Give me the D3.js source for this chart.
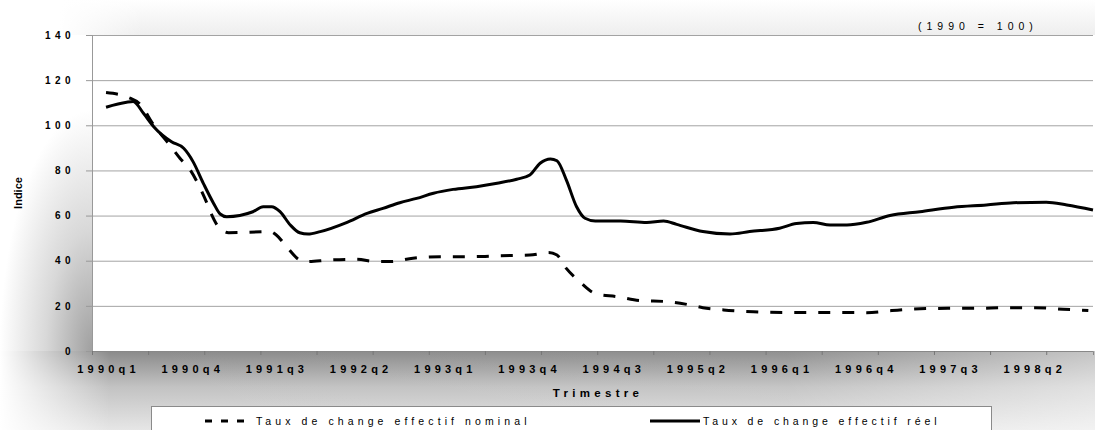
<!DOCTYPE html>
<html>
<head>
<meta charset="utf-8">
<script src="https://cdn.jsdelivr.net/npm/d3@7/dist/d3.min.js"></script>
<style>
    body { margin: 0; background: #fff; }
    svg { display: block; font-family: 'Liberation Sans', Arial, sans-serif; }
</style>
</head>
<body>
<svg></svg>
<script>
// Data (position in months since 1990q1, index 1990 = 100)
let moisReel = [0, 2.2, 2.9, 4, 5.1, 6, 7, 8.3, 9.3, 10.4, 11.5, 12.2, 12.9, 15.7, 16.8, 17.7, 18.6, 19.7, 20.7, 21.6,
    22.9, 25.7, 27.9, 29.6, 31.4, 33.2, 35, 37.1, 39.6, 41.8, 43.9, 45.3, 46.4, 47.5, 48.2, 49.2, 50.3, 51.2, 52.3, 55,
    57.8, 59.6, 61, 63.8, 66.7, 68.8, 72, 73.8, 75.6, 77.4, 79.2, 81.3, 83.8, 87, 90.6, 94.1, 97, 100.5, 102.7, 105.5]
let indiceReel = [108, 110.2, 110.5, 105.3, 99.4, 95.7, 92.7, 89.8, 83.9, 74.3, 65.4, 60.7, 59.5, 61.7, 63.9, 63.9, 61.7, 55.8, 52.4, 51.8,
    52.9, 56.9, 61, 63.2, 65.7, 67.6, 69.9, 71.6, 72.8, 74.3, 76.1, 78, 83.2, 85.1, 84.3, 75.8, 63.9, 58.8, 57.6, 57.6,
    56.9, 57.6, 56.1, 52.9, 51.8, 52.9, 54.4, 56.5, 56.9, 55.8, 55.8, 57, 60, 61.7, 63.7, 64.7, 65.7, 65.9, 64.7, 62.5]

let moisNominal = [0, 2.4, 3.6, 5.1, 6.8, 7.9, 9, 9.9, 10.8, 11.3, 12, 13.1, 17.5, 18.2, 19.3, 20.7, 21.4, 23.9, 26.8, 28.9,
    30.4, 32.8, 35.7, 38.9, 42.1, 45.3, 47.3, 48.2, 49.2, 50.5, 52.4, 54.6, 57.1, 59.9, 62.4, 63.8, 66, 69.2, 72.4, 75.2,
    77.9, 81.3, 84, 87, 90, 93.1, 96.1, 99.3, 102.3, 105]
let indiceNominal = [114.5, 112.3, 109.5, 100.1, 91.3, 85.4, 80.2, 73.5, 65.4, 60.3, 55.1, 52.4, 52.9, 51.4, 46.2, 40.3, 39.6, 40.3, 40.6, 39.6,
    39.6, 41.1, 41.8, 41.8, 42.2, 42.5, 43.6, 42.5, 36.6, 31.2, 25.3, 24.1, 22.3, 21.9, 20.4, 19.2, 18.2, 17.4, 17.1, 17.1,
    17.1, 17, 17.9, 18.7, 18.9, 18.9, 19.2, 19.2, 18.5, 17.9]

// Tick labels
let yTicks = [0, 20, 40, 60, 80, 100, 120, 140]
let xLabels = ['1990q1', '1990q4', '1991q3', '1992q2', '1993q1', '1993q4', '1994q3', '1995q2', '1996q1', '1996q4', '1997q3', '1998q2']
let legendLabels = ['Taux de change effectif nominal', 'Taux de change effectif réel']

// Dimensions
let width = 1095
let height = 430
let plotLeft = 92
let plotRight = 1093
let plotTop = 35
let plotBottom = 351

let svg = d3.select('svg')
    .attr('width', width)
    .attr('height', height)

// Scales (one category = one quarter, centred labels)
let xScale = d3.scaleLinear()
    .domain([-1.5, 105.5])
    .range([plotLeft, plotRight])

let yScale = d3.scaleLinear()
    .domain([0, 140])
    .range([plotBottom, plotTop])

// Background shading of the scanned figure
let defs = svg.append('defs')

let gBottom = defs.append('linearGradient').attr('id', 'gBottom')
    .attr('x1', 0).attr('y1', 0).attr('x2', 0).attr('y2', 1)
gBottom.append('stop').attr('offset', 0).attr('stop-color', '#8a8a8a')
gBottom.append('stop').attr('offset', 0.45).attr('stop-color', '#c2c2c2')
gBottom.append('stop').attr('offset', 1).attr('stop-color', '#e6e6e6')

let gFadeX = defs.append('linearGradient').attr('id', 'gFadeX')
gFadeX.append('stop').attr('offset', 0).attr('stop-color', '#fff').attr('stop-opacity', 1)
gFadeX.append('stop').attr('offset', 0.1).attr('stop-color', '#fff').attr('stop-opacity', 0)
gFadeX.append('stop').attr('offset', 0.72).attr('stop-color', '#fff').attr('stop-opacity', 0.05)
gFadeX.append('stop').attr('offset', 1).attr('stop-color', '#fff').attr('stop-opacity', 0.5)

let gLeft = defs.append('radialGradient').attr('id', 'gLeft')
    .attr('cx', 1).attr('cy', 1).attr('r', 1)
gLeft.append('stop').attr('offset', 0).attr('stop-color', '#a0a0a0')
gLeft.append('stop').attr('offset', 0.5).attr('stop-color', '#d8d8d8')
gLeft.append('stop').attr('offset', 1).attr('stop-color', '#fff')

let gTop = defs.append('linearGradient').attr('id', 'gTop')
    .attr('x1', 0).attr('y1', 0).attr('x2', 0).attr('y2', 1)
gTop.append('stop').attr('offset', 0).attr('stop-color', '#fff')
gTop.append('stop').attr('offset', 1).attr('stop-color', '#eeeeee')

let gTopFade = defs.append('linearGradient').attr('id', 'gTopFade')
gTopFade.append('stop').attr('offset', 0).attr('stop-color', '#fff').attr('stop-opacity', 1)
gTopFade.append('stop').attr('offset', 0.08).attr('stop-color', '#fff').attr('stop-opacity', 0)

svg.append('rect').attr('width', width).attr('height', height).attr('fill', '#fff')
svg.append('rect').attr('x', 0).attr('y', 110).attr('width', plotLeft).attr('height', plotBottom - 110).attr('fill', 'url(#gLeft)')
svg.append('rect').attr('x', 60).attr('y', 0).attr('width', width - 60).attr('height', plotTop).attr('fill', 'url(#gTop)')
svg.append('rect').attr('x', 60).attr('y', 0).attr('width', width - 60).attr('height', plotTop).attr('fill', 'url(#gTopFade)')
svg.append('rect').attr('x', 0).attr('y', plotBottom).attr('width', width).attr('height', height - plotBottom).attr('fill', 'url(#gBottom)')
svg.append('rect').attr('x', 0).attr('y', plotBottom).attr('width', width).attr('height', height - plotBottom).attr('fill', 'url(#gFadeX)')

// Plot area
svg.append('rect')
    .attr('x', plotLeft).attr('y', plotTop)
    .attr('width', plotRight - plotLeft).attr('height', plotBottom - plotTop)
    .attr('fill', '#fff')

// Gridlines
let grid = svg.append('g')
    .attr('transform', 'translate(' + plotLeft + ', 0)')
    .call(d3.axisLeft(yScale).tickValues(yTicks).tickSize(-(plotRight - plotLeft)).tickFormat(''))
grid.select('.domain').remove()
grid.selectAll('line').attr('stroke', '#a3a3a3')

// Y axis
let yAxis = svg.append('g')
    .attr('transform', 'translate(' + plotLeft + ', 0)')
    .call(d3.axisLeft(yScale).tickValues(yTicks).tickSize(6).tickPadding(11))
yAxis.select('.domain').attr('stroke', '#999')
yAxis.selectAll('line').attr('stroke', '#999')
yAxis.selectAll('text')
    .attr('font-family', 'Liberation Sans, Arial, sans-serif')
    .attr('font-size', 10)
    .attr('font-weight', 'bold')
    .attr('letter-spacing', 4.4)
    .attr('fill', '#000')

// X axis: tick marks every two quarters, labels every three quarters
let xAxis = svg.append('g')
    .attr('transform', 'translate(0, ' + plotBottom + ')')
    .call(d3.axisBottom(xScale).tickValues(d3.range(-1.5, 105, 6)).tickSize(4).tickFormat(''))
xAxis.select('.domain').attr('stroke', '#888')
xAxis.selectAll('line').attr('stroke', '#777')

let xLabelAxis = svg.append('g')
    .attr('transform', 'translate(0, ' + plotBottom + ')')
    .call(d3.axisBottom(xScale)
        .tickValues(xLabels.map((d, i) => i * 9))
        .tickSize(0)
        .tickPadding(14)
        .tickFormat((d, i) => xLabels[i]))
xLabelAxis.select('.domain').remove()
xLabelAxis.selectAll('text')
    .attr('font-family', 'Liberation Sans, Arial, sans-serif')
    .attr('font-size', 11)
    .attr('font-weight', 'bold')
    .attr('letter-spacing', 4.2)
    .attr('dx', 2)
    .attr('fill', '#000')

// Lines
let nominal = moisNominal.map((m, i) => ({ m: m, v: indiceNominal[i] }))
let reel = moisReel.map((m, i) => ({ m: m, v: indiceReel[i] }))

let line = d3.line()
    .x((d) => xScale(d.m))
    .y((d) => yScale(d.v))
    .curve(d3.curveMonotoneX)

svg.append('path')
    .datum(nominal)
    .attr('d', line)
    .attr('fill', 'none')
    .attr('stroke', '#000')
    .attr('stroke-width', 3)
    .attr('stroke-dasharray', '12,12')

svg.append('path')
    .datum(reel)
    .attr('d', line)
    .attr('fill', 'none')
    .attr('stroke', '#000')
    .attr('stroke-width', 3)

// Axis titles
svg.append('text')
    .attr('transform', 'translate(22, 193) rotate(-90)')
    .attr('text-anchor', 'middle')
    .attr('font-size', 11)
    .attr('font-weight', 'bold')
    .text('Indice')

svg.append('text')
    .attr('x', 598)
    .attr('y', 397)
    .attr('text-anchor', 'middle')
    .attr('font-size', 11.5)
    .attr('font-weight', 'bold')
    .attr('letter-spacing', 4.3)
    .text('Trimestre')

svg.append('text')
    .attr('x', 918)
    .attr('y', 29.5)
    .attr('font-size', 10.5)
    .attr('letter-spacing', 5)
    .text('(1990 = 100)')

// Legend
svg.append('rect')
    .attr('x', 151.5).attr('y', 406.5)
    .attr('width', 840).attr('height', 40)
    .attr('fill', '#fff')
    .attr('stroke', '#8a8a8a')

let legend = svg.append('g')

legend.append('line')
    .attr('x1', 205).attr('x2', 253).attr('y1', 421).attr('y2', 421)
    .attr('stroke', '#000').attr('stroke-width', 2.8)
    .attr('stroke-dasharray', '7,9')

legend.append('line')
    .attr('x1', 650).attr('x2', 700).attr('y1', 421).attr('y2', 421)
    .attr('stroke', '#000').attr('stroke-width', 2.8)

legend.selectAll('.legend-text')
    .data(legendLabels)
    .enter()
    .append('text')
    .attr('class', 'legend-text')
    .attr('x', (d, i) => i === 0 ? 256 : 703)
    .attr('y', 425)
    .attr('font-size', 10.5)
    .attr('letter-spacing', (d, i) => i === 0 ? 4.1 : 3.9)
    .text((d) => d)
</script>
</body>
</html>
